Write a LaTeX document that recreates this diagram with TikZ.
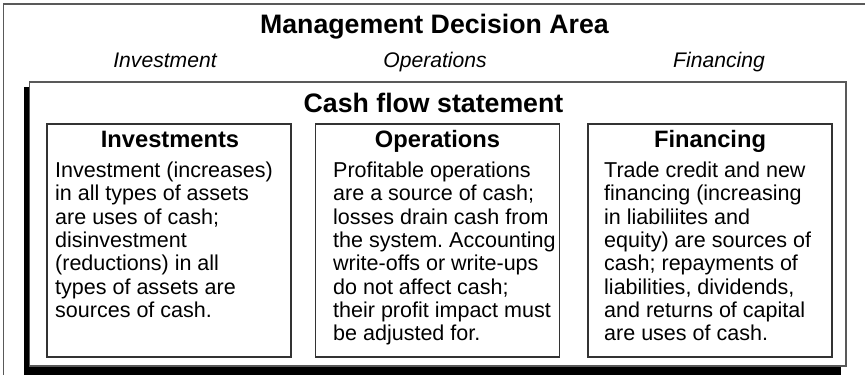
\documentclass[tikz,border=0pt]{standalone}
\usepackage{fontspec}
\setmainfont{Liberation Sans}
\frenchspacing
\begin{document}
\begin{tikzpicture}[x=1bp,y=-1bp,
  frameline/.style={draw=black!65,line width=1.1bp},
  boxline/.style={draw=black!80,line width=1.1bp},
  titletext/.style={font=\bfseries\fontsize{26.8}{30}\selectfont,anchor=base,inner sep=0pt},
  areatext/.style={font=\itshape\fontsize{21.2}{25}\selectfont,anchor=base,inner sep=0pt},
  headtext/.style={font=\bfseries\fontsize{23.8}{27}\selectfont,anchor=base,inner sep=0pt},
  bodytext/.style={font=\frenchspacing\fontsize{21.6}{23.4}\selectfont,align=left,anchor=north west,inner sep=0pt},
  innerbox/.style={boxline,fill=white,minimum width=244bp,minimum height=233bp,inner sep=0pt}]
\useasboundingbox (0,0) rectangle (865,374);
\clip (0,0) rectangle (865,374);
\fill[white] (0,0) rectangle (865,374);
% outer management frame (cropped at right and bottom)
\draw[frameline] (3.5,420) -- (3.5,4) -- (900,4);
\node[titletext] (title) at (434.5,33) {Management Decision Area};
\node[areatext] (ainv) at (165,67) {Investment};
\node[areatext] (aops) at (435,67) {Operations};
\node[areatext] (afin) at (719,67) {Financing};
% cash flow statement box with shadow
\fill[black] (24,87) rectangle (841,400);
\draw[frameline,fill=white] (29.5,82) rectangle (846,366);
\node[titletext] (cfs) at (433.5,112) {Cash flow statement};
% three inner boxes
\node[innerbox] (binv) at (169,240.5) {};
\node[innerbox] (bops) at (437.5,240.5) {};
\node[innerbox] (bfin) at (710,240.5) {};
\node[headtext] (hinv) at (170,147.5) {Investments};
\node[headtext] (hops) at (437.5,147.5) {Operations};
\node[headtext] (hfin) at (710,147.5) {Financing};
\node[bodytext] (tinv) at (55,160.5) {\rule{0pt}{17pt}Investment (increases)\\in all types of assets\\are uses of cash;\\disinvestment\\(reductions) in all\\types of assets are\\sources of cash.};
\node[bodytext] (tops) at (333,160.5) {\rule{0pt}{17pt}Profitable operations\\are a source of cash;\\losses drain cash from\\the system. Accounting\\write-offs or write-ups\\do not affect cash;\\their profit impact must\\be adjusted for.};
\node[bodytext] (tfin) at (604,160.5) {\rule{0pt}{17pt}Trade credit and new\\financing (increasing\\in liabiliites and\\equity) are sources of\\cash; repayments of\\liabilities, dividends,\\and returns of capital\\are uses of cash.};
\end{tikzpicture}
\end{document}
